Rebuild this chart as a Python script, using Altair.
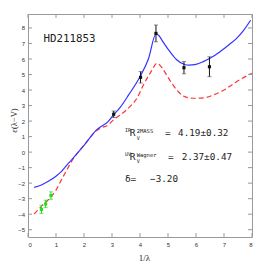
import altair as alt
import pandas as pd

# ---- data ----
blue_x = [0.22, 0.5, 0.71, 1.0, 1.19, 1.38, 1.55, 1.75, 1.96, 2.2, 2.44, 2.6, 2.86, 3.05, 3.3, 3.6, 4.0, 4.3, 4.57, 4.68, 4.77, 4.9, 5.07, 5.31, 5.55, 5.75, 6.0, 6.26, 6.5, 6.86, 7.2, 7.45, 7.7, 7.95]
blue_y = [-2.27, -2.1, -1.9, -1.55, -1.26, -0.85, -0.51, -0.1, 0.35, 0.9, 1.42, 1.64, 1.96, 2.39, 2.9, 3.7, 4.86, 6.0, 7.61, 7.5, 7.25, 6.9, 6.47, 5.95, 5.68, 5.6, 5.65, 5.83, 6.05, 6.47, 6.95, 7.33, 7.85, 8.5]

red_x = [0.22, 0.5, 0.83, 1.0, 1.19, 1.4, 1.55, 1.75, 1.96, 2.2, 2.44, 2.6, 2.86, 3.05, 3.3, 3.64, 3.9, 4.12, 4.4, 4.6, 4.8, 4.95, 5.15, 5.37, 5.55, 5.75, 5.96, 6.3, 6.62, 7.0, 7.45, 7.99]
red_y = [-3.99, -3.45, -2.87, -2.45, -1.8, -1.1, -0.62, -0.1, 0.35, 0.9, 1.38, 1.55, 1.75, 2.07, 2.4, 2.93, 3.5, 4.32, 5.2, 5.72, 5.4, 4.97, 4.4, 3.89, 3.61, 3.5, 3.47, 3.5, 3.68, 4.0, 4.54, 5.08]

uv_x = [3.06, 4.02, 4.57, 5.57, 6.48]
uv_y = [2.44, 4.82, 7.65, 5.44, 5.5]
uv_err = [0.21, 0.37, 0.54, 0.39, 0.64]

ir_x = [0.48, 0.63, 0.82]
ir_y = [-3.69, -3.34, -2.8]
ir_err = [0.26, 0.24, 0.24]

x_ticks = [0, 1, 2, 3, 4, 5, 6, 7, 8]
y_ticks = [-5, -4, -3, -2, -1, 0, 1, 2, 3, 4, 5, 6, 7, 8]

X_DOM = [0, 8]
Y_DOM = [-5.47, 8.9]

# annotation text (data coordinates)
ann_text = ["IR", "R", "2MASS", "V", "=", "4.19±0.32",
            "UV", "R", "Wagner", "V", "=", "2.37±0.47",
            "δ=", "−3.20"]
ann_x = [3.46, 3.63, 3.88, 3.88, 4.89, 5.36,
         3.46, 3.63, 3.88, 3.88, 5.0, 5.49,
         3.46, 4.36]
ann_y = [1.45, 1.20, 1.36, 0.93, 1.20, 1.20,
         -0.09, -0.34, -0.19, -0.60, -0.34, -0.34,
         -1.73, -1.73]
ann_size = [5, 9.5, 5.5, 5, 9.5, 9.3,
            5, 9.5, 5.5, 5, 9.5, 9.3,
            9.5, 9.3]

W, H = 224, 223

AX_X = alt.Axis(title="1/λ", values=x_ticks, format="d", grid=False, domain=False, ticks=False,
                labelFontSize=6, labelFont="Liberation Sans", labelColor="#333", labelPadding=4,
                titleFont="Liberation Serif", titleFontSize=9, titleFontWeight="normal",
                titleColor="#222", titleX=116, titleY=20, titleBaseline="middle")
AX_Y = alt.Axis(title="ε(λ−V)", values=y_ticks, format="d", grid=False, domain=False, ticks=False,
                labelFontSize=6, labelFont="Liberation Sans", labelColor="#333", labelPadding=3.5,
                titleFont="Liberation Serif", titleFontSize=8.5, titleFontWeight="normal",
                titleColor="#222", titleX=-15, titleY=106, titleAngle=270,
                titleAlign="center", titleBaseline="middle")


def X(f):
    return alt.X(f, type="quantitative", scale=alt.Scale(domain=X_DOM, nice=False, zero=False), axis=AX_X)


def Y(f):
    return alt.Y(f, type="quantitative", scale=alt.Scale(domain=Y_DOM, nice=False, zero=False), axis=AX_Y)


blue = pd.DataFrame({"x": blue_x, "y": blue_y})
red = pd.DataFrame({"x": red_x, "y": red_y})
uv = pd.DataFrame({"x": uv_x, "y": uv_y, "lo": [a - b for a, b in zip(uv_y, uv_err)],
                   "hi": [a + b for a, b in zip(uv_y, uv_err)]})
ir = pd.DataFrame({"x": ir_x, "y": ir_y, "lo": [a - b for a, b in zip(ir_y, ir_err)],
                   "hi": [a + b for a, b in zip(ir_y, ir_err)]})
xt = pd.DataFrame({"t": x_ticks})
yt = pd.DataFrame({"t": y_ticks})
ann = pd.DataFrame({"x": ann_x, "y": ann_y, "text": ann_text, "fs": ann_size})
lab = pd.DataFrame({"x": [0.55], "y": [7.27], "text": ["HD211853"]})

red_line = alt.Chart(red).mark_line(color="#ff3333", strokeWidth=1.2, strokeDash=[5, 3],
                                    interpolate="monotone").encode(x=X("x"), y=Y("y"))
blue_line = alt.Chart(blue).mark_line(color="#3333ff", strokeWidth=1.2,
                                      interpolate="monotone").encode(x=X("x"), y=Y("y"))

tick_col = "#999999"
tb = alt.Chart(xt).mark_rule(color=tick_col, strokeWidth=1).encode(x=X("t"), y=alt.value(H), y2=alt.value(H - 4))
tt = alt.Chart(xt).mark_rule(color=tick_col, strokeWidth=1).encode(x=X("t"), y=alt.value(0), y2=alt.value(4))
tl = alt.Chart(yt).mark_rule(color=tick_col, strokeWidth=1).encode(y=Y("t"), x=alt.value(0), x2=alt.value(4))
tr = alt.Chart(yt).mark_rule(color=tick_col, strokeWidth=1).encode(y=Y("t"), x=alt.value(W), x2=alt.value(W - 4))


def errs(df, col, capcol):
    bars = alt.Chart(df).mark_rule(color=col, strokeWidth=1).encode(x=X("x"), y=Y("lo"), y2="hi")
    cap1 = alt.Chart(df).mark_tick(color=capcol, orient="horizontal", size=4, thickness=1).encode(x=X("x"), y=Y("lo"))
    cap2 = alt.Chart(df).mark_tick(color=capcol, orient="horizontal", size=4, thickness=1).encode(x=X("x"), y=Y("hi"))
    pts = alt.Chart(df).mark_square(color=col, size=10, opacity=1).encode(x=X("x"), y=Y("y"))
    return [bars, cap1, cap2, pts]


ann_layer = alt.Chart(ann).mark_text(align="left", baseline="middle", font="DejaVu Sans Mono",
                                     color="#222").encode(
    x=X("x"), y=Y("y"), text="text:N", size=alt.Size("fs:Q", scale=None, legend=None))
lab_layer = alt.Chart(lab).mark_text(align="left", baseline="middle", font="DejaVu Sans Mono",
                                     fontSize=10.8, color="#222").encode(x=X("x"), y=Y("y"), text="text:N")

chart = alt.layer(
    red_line, blue_line, tb, tt, tl, tr,
    *errs(uv, "#111111", "#555555"), *errs(ir, "#22dd22", "#22dd22"),
    ann_layer, lab_layer
).properties(
    width=W, height=H,
    autosize=alt.AutoSizeParams(type="none"),
    padding={"left": 20, "top": 6, "right": 6, "bottom": 25},
    background="white",
).configure_view(stroke="#999999", strokeWidth=1)

chart.save("out.html", embed_options={"renderer": "svg", "actions": False})
